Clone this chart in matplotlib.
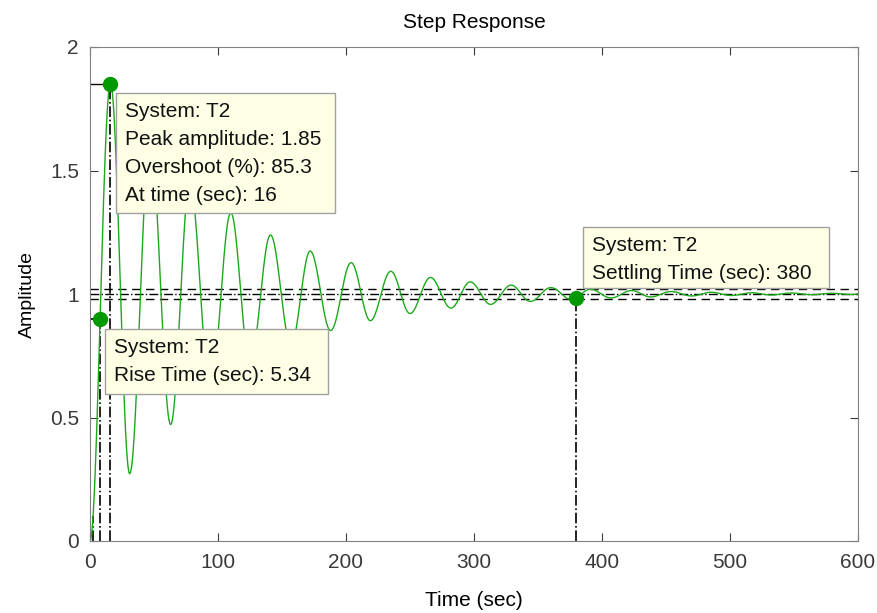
import numpy as np
import matplotlib
matplotlib.use("Agg")
import matplotlib.pyplot as plt
from matplotlib.patches import Rectangle

plt.rcParams['font.family'] = ['Liberation Sans', 'DejaVu Sans']

# extrema of the step response (time, amplitude)
ext_t = [0, 16, 31, 47, 63, 78, 94, 110, 125, 141, 157, 172, 188, 204, 219,
         235, 250, 266, 282, 297, 313, 329, 344, 360, 376, 391, 407, 423, 438,
         454, 470, 485, 501, 517, 532, 548, 564, 579, 595, 600]
ext_y = [0.0, 1.853, 0.272, 1.621, 0.471, 1.452, 0.615, 1.329, 0.720, 1.239,
         0.796, 1.174, 0.852, 1.127, 0.892, 1.092, 0.921, 1.067, 0.943, 1.049,
         0.958, 1.036, 0.970, 1.026, 0.978, 1.019, 0.984, 1.014, 0.988, 1.010,
         0.992, 1.007, 0.994, 1.005, 0.996, 1.004, 0.997, 1.003, 0.998, 1.0]

# characteristic points
peak_t, peak_y = 16, 1.85
rise_t10, rise_t90 = 2.4, 7.8
settle_t, settle_y = 380, 0.984
final_val = 1.0

tip_texts = [
    'System: T2\nPeak amplitude: 1.85\nOvershoot (%): 85.3\nAt time (sec): 16',
    'System: T2\nRise Time (sec): 5.34',
    'System: T2\nSettling Time (sec): 380',
]

green = '#1aaa1a'

# smooth the curve between listed extrema (half-cosine per segment)
tt, yy = [], []
for i in range(len(ext_t) - 1):
    s = np.linspace(0, 1, 25)
    tt.append(ext_t[i] + s * (ext_t[i + 1] - ext_t[i]))
    yy.append(ext_y[i] + (ext_y[i + 1] - ext_y[i]) * (1 - np.cos(np.pi * s)) / 2)
tt = np.concatenate(tt)
yy = np.concatenate(yy)

fig = plt.figure(figsize=(8.78, 6.13), dpi=100)
ax = fig.add_axes([90 / 878, 1 - 541 / 613, (858 - 90) / 878, (541 - 47) / 613])

# steady-state / settling band lines
ax.axhline(final_val + 0.02, color='k', lw=1, dashes=(6, 4))
ax.axhline(final_val - 0.02, color='k', lw=1, dashes=(6, 4))
ax.axhline(final_val, color='k', ls='-.', lw=1)

# peak lines
ax.plot([0, peak_t], [peak_y, peak_y], color='k', lw=1)
ax.plot([peak_t, peak_t], [0, peak_y], color='k', ls='-.', lw=1.2)
# rise lines
ax.plot([rise_t10, rise_t10], [0, 0.1], color='k', ls='-.', lw=1.2)
ax.plot([rise_t90, rise_t90], [0, 0.9], color='k', ls='-.', lw=1.2)
ax.plot([0, rise_t90], [0.9, 0.9], color='k', ls='-.', lw=1.2)
# settling line
ax.plot([settle_t, settle_t], [0, settle_y], color='k', ls='-.', lw=1.2)

ax.plot(tt, yy, color=green, lw=1.0)

ax.plot([peak_t, rise_t90, settle_t], [peak_y, 0.9, settle_y], 'o',
        color='#009900', ms=10)

ax.set_xlim(0, 600)
ax.set_ylim(0, 2)
ax.set_xticks(range(0, 601, 100))
ax.set_yticks([0, 0.5, 1, 1.5, 2])
ax.set_yticklabels(['0', '0.5', '1', '1.5', '2'])
ax.tick_params(direction='in', top=True, right=True, labelsize=15,
               colors='#3a3a3a', length=6)
ax.tick_params(axis='x', pad=9)
ax.tick_params(axis='y', pad=8)
for sp in ax.spines.values():
    sp.set_color('#808080')

ax.set_title('Step Response', fontsize=15, pad=14)
ax.set_xlabel('Time (sec)', fontsize=15, labelpad=13)
ax.set_ylabel('Amplitude', fontsize=14, labelpad=10)

# tooltip boxes, placed in pixel units of the figure
def px(x, y):
    return x / 878, 1 - y / 613

boxes = [(116, 93, 335, 213), (105, 329, 328, 394), (583, 227, 829, 288)]
for (x0, y0, x1, y1), s in zip(boxes, tip_texts):
    bx, by = px(x0, y1)
    fig.patches.append(Rectangle((bx, by), (x1 - x0) / 878, (y1 - y0) / 613,
                                 transform=fig.transFigure, fc='#ffffe6',
                                 ec='#a0a0a0', lw=1, zorder=5))
    tx, ty = px(x0 + 9, y0 + 9)
    fig.text(tx, ty, s, fontsize=15, va='top', ha='left', linespacing=1.6,
             color='#111111', zorder=6)

fig.savefig('out.png', dpi=100)
